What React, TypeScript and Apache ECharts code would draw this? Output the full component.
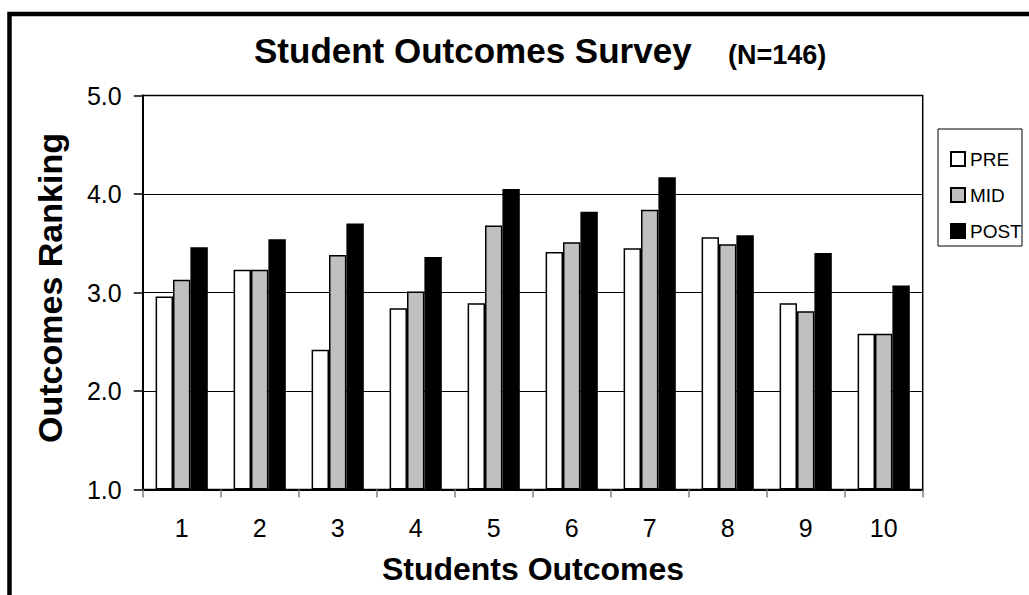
import React, { useEffect, useRef } from "react";
import * as echarts from "echarts";

// Survey outcome categories and mean rankings per survey wave
const outcomes = ["1", "2", "3", "4", "5", "6", "7", "8", "9", "10"];
const preScores = [2.96, 3.23, 2.42, 2.84, 2.89, 3.41, 3.45, 3.56, 2.89, 2.58];
const midScores = [3.13, 3.23, 3.38, 3.01, 3.68, 3.51, 3.84, 3.49, 2.81, 2.58];
const postScores = [3.46, 3.54, 3.7, 3.36, 4.05, 3.82, 4.17, 3.58, 3.4, 3.07];
const seriesNames = ["PRE", "MID", "POST"];
const seriesFills = ["#ffffff", "#c0c0c0", "#000000"];

const FONT = "'Liberation Sans', Arial, Helvetica, sans-serif";

export default function App() {
  const ref = useRef<HTMLDivElement>(null);

  useEffect(() => {
    if (!ref.current) return;
    const chart = echarts.init(ref.current, undefined, { renderer: "svg" });
    const values = [preScores, midScores, postScores];

    chart.setOption({
      animation: false,
      backgroundColor: "#ffffff",
      textStyle: { fontFamily: FONT, color: "#000" },
      grid: {
        left: 142.7,
        right: 106.3,
        top: 95.5,
        bottom: 105.5,
        show: true,
        borderColor: "#000",
        borderWidth: 1.5,
        containLabel: false,
      },
      legend: {
        orient: "vertical",
        left: 945,
        top: 144,
        itemWidth: 14,
        itemHeight: 14,
        itemGap: 16,
        icon: "rect",
        textStyle: { fontFamily: FONT, fontSize: 19, color: "#000", lineHeight: 20 },
        data: seriesNames,
      },
      xAxis: {
        type: "category",
        data: outcomes,
        axisLine: { lineStyle: { color: "#000", width: 2 } },
        axisTick: { show: true, length: 8, lineStyle: { color: "#808080", width: 1.5 } },
        axisLabel: { fontFamily: FONT, fontSize: 25, color: "#000", margin: 26 },
      },
      yAxis: {
        type: "value",
        min: 1,
        max: 5,
        interval: 1,
        startValue: 1,
        axisLine: { show: true, lineStyle: { color: "#000", width: 2 } },
        axisTick: { show: true, length: 9, lineStyle: { color: "#000", width: 1.5 } },
        axisLabel: {
          fontFamily: FONT,
          fontSize: 25,
          color: "#000",
          margin: 21,
          formatter: (v: number) => v.toFixed(1),
        },
        splitLine: { show: true, lineStyle: { color: "#000", width: 1 } },
      },
      series: seriesNames.map((name, i) => ({
        name,
        type: "bar",
        data: values[i],
        barWidth: 17.4,
        barGap: "0%",
        itemStyle: { color: seriesFills[i], borderColor: "#000", borderWidth: 1.5 },
      })),
      graphic: [
        {
          type: "rect",
          shape: { x: 9.5, y: 14, width: 1100, height: 700 },
          style: { fill: "none", stroke: "#000", lineWidth: 4.5 },
          silent: true,
          z: 100,
        },
        {
          type: "rect",
          shape: { x: 938, y: 129, width: 84, height: 117 },
          style: { fill: "none", stroke: "#000", lineWidth: 1 },
          silent: true,
        },
        {
          type: "text",
          x: 254,
          y: 50,
          style: {
            text: "Student Outcomes Survey",
            font: `bold 35px ${FONT}`,
            fill: "#000",
            align: "left",
            verticalAlign: "middle",
          },
        },
        {
          type: "text",
          x: 728,
          y: 55,
          style: {
            text: "(N=146)",
            font: `bold 27px ${FONT}`,
            fill: "#000",
            align: "left",
            verticalAlign: "middle",
          },
        },
        {
          type: "text",
          x: 533,
          y: 569,
          style: {
            text: "Students Outcomes",
            font: `bold 32px ${FONT}`,
            fill: "#000",
            align: "center",
            verticalAlign: "middle",
          },
        },
        {
          type: "text",
          x: 50,
          y: 288,
          rotation: Math.PI / 2,
          style: {
            text: "Outcomes Ranking",
            font: `bold 34px ${FONT}`,
            fill: "#000",
            align: "center",
            verticalAlign: "middle",
          },
        },
      ],
    });

    return () => chart.dispose();
  }, []);

  return (
    <div
      ref={ref}
      style={{ position: "fixed", left: 0, top: 0, width: 1029, height: 595 }}
    />
  );
}
